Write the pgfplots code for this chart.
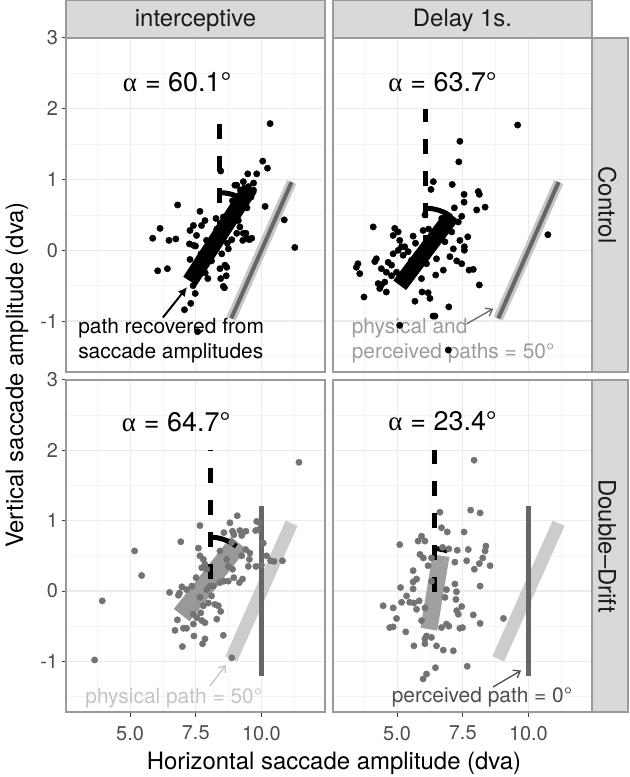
\documentclass[border=0pt]{standalone}
\usepackage{pgfplots}
\pgfplotsset{compat=1.18}
\usepackage{fontspec}
\setmainfont{TeX Gyre Heros}
\newfontfamily\greekfont{Liberation Serif}
\usetikzlibrary{arrows.meta}
\definecolor{gridmaj}{HTML}{EBEBEB}
\definecolor{gridmin}{HTML}{F4F4F4}
\definecolor{frame}{HTML}{9A9A9A}
\definecolor{stripfill}{HTML}{D9D9D9}
\definecolor{ticklab}{HTML}{4D4D4D}
\definecolor{ptgray}{HTML}{737373}
\definecolor{bargrayA}{HTML}{999999}
\definecolor{bargrayB}{HTML}{A0A0A0}
\definecolor{physlight}{HTML}{C6C6C6}
\definecolor{physlightB}{HTML}{CCCCCC}
\definecolor{darkline}{HTML}{666666}
\definecolor{annoA}{HTML}{9C9C9C}
\definecolor{annoB}{HTML}{C4C4C4}
\definecolor{annoC}{HTML}{4D4D4D}

\newcommand{\annofont}{\fontsize{21}{24}\selectfont}
\newcommand{\alphafont}{\fontsize{27}{30}\selectfont}

\pgfplotsset{
  panel/.style={
    scale only axis, width=259bp, anchor=south west,
    xmin=2.56, xmax=12.42, ymin=-1.72, ymax=3.0,
    axis line style={draw=frame, line width=1.1bp},
    xtick={5,7.5,10}, ytick={-1,0,1,2,3},
    minor xtick={3.75,6.25,8.75,11.25},
    minor ytick={-1.5,-0.5,0.5,1.5,2.5},
    grid=both,
    major grid style={draw=gridmaj, line width=1.1bp},
    minor grid style={draw=gridmin, line width=0.6bp},
    tick align=outside, major tick length=4.5bp, minor tick length=0pt,
    tick style={draw=black!75, line width=1bp},
    xtick pos=bottom, ytick pos=left,
    ticklabel style={font=\fontsize{20}{24}\selectfont, text=ticklab},
    xticklabel style={yshift=-6bp},
    xticklabels={5.0,7.5,10.0},
    yticklabels={-1,0,1,2,3},
  },
  toppanel/.style={height=334bp, xmajorticks=false},
  botpanel/.style={height=332bp},
  rightpanel/.style={ymajorticks=false},
  pts/.style={only marks, mark=*, mark size=3.2bp},
}

\begin{document}
\begin{tikzpicture}
\path[use as bounding box] (0,0) rectangle (630bp,777bp);

%% ---------------- Control / interceptive ----------------
\begin{axis}[panel, toppanel, at={(66bp,405bp)}]
\addplot[pts, black] coordinates {
(10.33,1.79) (10.05,1.26) (10.23,1.16) (9.82,1.08) (9.48,1.08) (9.70,0.95)
(9.06,0.92) (9.31,0.97) (8.99,0.92) (10.14,0.62) (10.87,0.43) (11.27,0.04)
(6.81,0.64) (7.66,0.55) (6.14,0.31) (5.86,0.17) (6.48,0.14) (6.74,0.16)
(6.05,-0.29) (6.42,-0.26) (7.28,0.28) (7.41,0.35) (7.72,0.35) (7.85,0.42)
(7.53,0.21) (7.26,0.09) (7.41,0.07) (7.91,0.14) (7.49,0.06) (7.28,-0.13)
(8.00,0.07) (8.27,0.45) (8.55,0.47) (9.12,0.42) (9.18,0.33) (9.06,0.47)
(8.68,0.33) (8.87,0.15) (9.06,0.24) (9.31,0.24) (9.41,0.24) (9.44,0.17)
(9.63,0.17) (9.29,0.14) (9.54,0.15) (8.74,0.02) (9.05,0.68) (8.49,-0.05)
(8.42,-0.26) (8.68,-0.24) (8.61,-0.21) (8.45,-0.40) (8.59,-0.53) (8.66,-0.36)
(7.96,-0.40) (7.86,-0.32) (8.55,-0.51) (7.48,-0.61) (7.31,-0.75) (7.07,-0.84)
(7.57,-1.15) (8.45,1.12)
(7.5,-0.3) (7.8,-0.15) (8.0,-0.05) (8.2,0.1) (8.4,0.2) (8.6,0.3) (8.8,0.45)
(9.0,0.55) (9.2,0.65) (9.4,0.78) (7.7,-0.05) (8.1,-0.15) (8.3,0.3) (8.7,0.1)
(8.9,0.7) (9.2,0.85) (9.5,0.9) (7.4,-0.5) (9.6,0.75) (9.7,0.85) (9.45,0.6)
};
\addplot[black, line width=16bp, line cap=butt] coordinates {(7.28,-0.436) (9.56,0.876)};
\addplot[black, line width=5bp, dash pattern=on 15bp off 17bp] coordinates {(8.42,0.22) (8.42,1.82)};
\addplot[black, line width=5bp, smooth] coordinates {(8.42,0.814) (8.648,0.808) (8.873,0.790) (9.089,0.760) (9.289,0.719)};
\addplot[physlight, line width=10bp, line cap=butt] coordinates {(8.851,-0.964) (11.149,0.964)};
\addplot[darkline, line width=4bp, line cap=butt] coordinates {(8.851,-0.964) (11.149,0.964)};
\addplot[black, line width=2bp, -{Latex[length=9bp,width=9bp]}] coordinates {(6.25,-0.95) (7.17,-0.52)};
\node[anchor=base west, inner sep=0, font=\alphafont] at (axis cs:4.72,2.24) {{\greekfont α}\hspace{8bp}= 60.1°};
\node[anchor=base west, inner sep=0, font=\annofont] at (axis cs:3.02,-1.175) {path recovered from};
\node[anchor=base west, inner sep=0, font=\annofont] at (axis cs:3.02,-1.53) {saccade amplitudes};
\end{axis}

%% ---------------- Control / Delay 1s. ----------------
\begin{axis}[panel, toppanel, rightpanel, at={(333bp,405bp)}]
\addplot[pts, black] coordinates {
(9.59,1.77) (7.39,1.54) (7.35,1.25) (6.38,0.97) (7.10,0.93) (6.29,0.86)
(7.55,0.79) (8.09,0.83) (8.13,0.79) (7.55,0.68) (7.18,0.60) (8.35,0.61)
(8.03,0.57) (7.46,0.48) (7.33,0.40) (6.06,0.50) (4.09,0.33) (4.91,0.31)
(5.04,0.26) (4.85,0.21) (5.99,0.28) (5.61,0.20) (7.08,0.26) (7.39,0.14)
(7.69,0.19) (6.82,0.12) (7.56,0.05) (7.14,0.02) (7.56,0.00) (7.01,-0.09)
(7.27,-0.15) (7.46,-0.19) (7.90,-0.27) (7.74,-0.28) (6.50,-0.12) (6.12,-0.19)
(6.76,-0.28) (6.47,-0.35) (5.93,-0.40) (8.13,-0.49) (5.95,-0.59) (6.18,-0.60)
(5.68,-0.72) (6.25,-0.68) (6.97,-0.80) (6.37,-0.93) (6.44,-0.93) (3.74,-0.66)
(3.51,-0.19) (3.45,-0.24) (3.58,-0.33) (4.21,-0.12) (4.15,-0.16) (4.40,-0.26)
(4.66,-0.17) (4.79,-0.21) (4.59,-0.31) (4.98,-0.31) (4.79,-0.36) (5.23,-0.07)
(5.17,0.05) (5.04,0.00) (4.85,-0.05) (4.28,-0.47) (4.40,-0.49) (4.53,-0.45)
(4.34,-0.54) (4.59,-0.59) (5.55,-0.14) (5.48,-0.26) (5.74,-0.07) (5.42,-0.02)
(5.29,0.05) (5.10,0.14) (6.38,0.17) (6.44,0.09) (5.10,-1.06) (6.95,-1.41)
(10.74,0.22)
(5.3,-0.4) (5.5,-0.3) (5.8,-0.15) (6.0,-0.05) (6.3,0.1) (6.6,0.25) (6.9,0.4)
(6.2,0.3) (5.7,0.1) (6.7,0.45)
};
\addplot[black, line width=16bp, line cap=butt] coordinates {(5.1,-0.494) (7.1,0.494)};
\addplot[black, line width=5bp, dash pattern=on 15bp off 17bp] coordinates {(6.1,0.0) (6.1,2.0)};
\addplot[black, line width=5bp, smooth] coordinates {(6.1,0.594) (6.356,0.586) (6.607,0.563) (6.845,0.526) (7.062,0.475)};
\addplot[physlight, line width=10bp, line cap=butt] coordinates {(8.851,-0.964) (11.149,0.964)};
\addplot[darkline, line width=4bp, line cap=butt] coordinates {(8.851,-0.964) (11.149,0.964)};
\addplot[darkline, line width=1.3bp, -{Straight Barb[length=6bp,width=9bp]}] coordinates {(7.65,-1.04) (8.66,-0.825)};
\node[anchor=base west, inner sep=0, font=\alphafont] at (axis cs:4.66,2.25) {{\greekfont α}\hspace{8bp}= 63.7°};
\node[anchor=base west, inner sep=0, font=\annofont, text=annoA] at (axis cs:3.27,-1.175) {physical and};
\node[anchor=base west, inner sep=0, font=\annofont, text=annoA] at (axis cs:3.27,-1.53) {perceived paths = 50°};
\end{axis}

%% ---------------- Double-Drift / interceptive ----------------
\begin{axis}[panel, botpanel, at={(66bp,65bp)}]
\addplot[pts, ptgray] coordinates {
(11.43,1.83) (3.65,-0.98) (3.94,-0.14) (5.17,0.57) (5.44,0.22) (6.93,0.70)
(7.66,0.93) (9.08,1.07) (8.80,0.97) (8.57,0.83) (8.90,0.85) (8.95,0.80)
(9.18,0.86) (9.41,0.85) (9.25,0.79) (9.82,0.99) (9.94,0.97) (9.88,0.87)
(9.78,0.86) (10.07,0.68) (10.20,0.50) (10.35,0.43) (10.80,0.43) (10.48,0.42)
(10.00,0.37) (9.79,0.35) (9.50,0.35) (9.54,0.45) (9.56,0.54) (9.40,0.59)
(9.25,0.50) (8.87,0.69) (8.42,0.57) (8.68,0.45) (8.74,0.35) (8.90,0.31)
(7.60,0.61) (7.66,0.50) (7.79,0.45) (7.85,0.38) (7.73,0.33) (7.92,0.31)
(7.51,0.19) (7.35,0.07) (6.97,0.06) (6.88,-0.03) (6.84,-0.06) (6.50,-0.02)
(7.15,0.02) (7.92,0.02) (8.04,0.07) (8.17,0.07) (8.42,0.12) (8.57,0.14)
(8.74,0.14) (8.95,0.19) (9.28,0.17) (9.16,0.12) (8.10,-0.07) (7.66,-0.09)
(7.79,-0.21) (7.98,-0.17) (8.23,-0.19) (8.36,-0.21) (8.45,-0.29) (7.41,-0.33)
(7.69,-0.31) (7.54,-0.38) (7.73,-0.42) (7.41,-0.47) (7.85,-0.45) (8.30,-0.40)
(6.80,-0.41) (6.71,-0.56) (7.03,-0.53) (7.15,-0.53) (7.43,-0.64) (7.85,-0.68)
(7.76,-0.75) (8.55,-0.63) (6.99,-0.79) (8.87,-0.95)
};
\addplot[bargrayA, line width=20bp, line cap=butt] coordinates {(6.965,-0.342) (9.135,0.682)};
\addplot[black, line width=5bp, dash pattern=on 15bp off 17bp] coordinates {(8.05,0.17) (8.05,2.0)};
\addplot[black, line width=5bp, smooth] coordinates {(8.05,0.765) (8.317,0.757) (8.575,0.732) (8.818,0.692) (9.042,0.637)};
\addplot[physlightB, line width=13bp, line cap=butt] coordinates {(8.851,-0.964) (11.149,0.964)};
\addplot[darkline, line width=5bp, line cap=butt] coordinates {(10,-1.21) (10,1.21)};
\addplot[annoB, line width=1.3bp, -{Straight Barb[length=6bp,width=9bp]}] coordinates {(8.04,-1.35) (8.65,-1.05)};
\node[anchor=base west, inner sep=0, font=\alphafont] at (axis cs:4.68,2.27) {{\greekfont α}\hspace{8bp}= 64.7°};
\node[anchor=base west, inner sep=0, font=\annofont, text=annoB] at (axis cs:3.29,-1.605) {physical path = 50°};
\end{axis}

%% ---------------- Double-Drift / Delay 1s. ----------------
\begin{axis}[panel, botpanel, rightpanel, at={(333bp,65bp)}]
\addplot[pts, ptgray] coordinates {
(7.93,1.86) (7.80,1.15) (8.16,1.11) (6.63,1.12) (6.69,0.90) (6.91,0.84)
(7.55,0.84) (5.93,0.78) (6.06,0.71) (5.80,0.71) (5.10,0.66) (5.87,0.52)
(6.00,0.47) (6.31,0.47) (6.73,0.62) (6.97,0.60) (7.29,0.58) (7.71,0.59)
(8.38,0.64) (8.35,0.57) (8.26,0.47) (8.13,0.39) (8.54,0.36) (7.65,0.43)
(7.20,0.41) (7.94,0.31) (6.18,0.36) (5.61,0.29) (5.74,0.17) (5.61,0.13)
(6.31,0.14) (5.13,0.05) (5.36,-0.07) (5.17,-0.16) (5.48,-0.16) (5.64,-0.17)
(5.84,-0.14) (5.61,0.03) (4.47,-0.21) (4.85,-0.24) (4.98,-0.39) (4.72,-0.52)
(4.85,-0.51) (5.33,-0.58) (5.74,-0.26) (6.06,-0.24) (5.93,-0.42) (7.20,0.10)
(7.26,-0.01) (6.88,0.02) (6.82,-0.09) (7.24,-0.12) (7.46,-0.22) (7.27,-0.28)
(7.33,-0.33) (8.16,0.07) (7.90,-0.34) (8.16,-0.46) (9.05,-0.39) (6.88,-0.47)
(6.97,-0.50) (6.69,-0.52) (7.39,-0.53) (7.49,-0.52) (6.31,-0.66) (6.06,-0.68)
(5.64,-0.78) (6.06,-0.75) (6.50,-0.78) (6.76,-0.84) (7.14,-0.85) (6.12,-0.64)
(6.46,-1.09) (6.12,-1.18) (5.99,-1.25) (7.67,-1.07)
};
\addplot[bargrayB, line width=17bp, line cap=butt] coordinates {(6.21,-0.543) (6.67,0.503)};
\addplot[black, line width=5bp, dash pattern=on 15bp off 17bp] coordinates {(6.44,-0.02) (6.44,2.0)};
\addplot[black, line width=5bp, smooth] coordinates {(6.44,0.60) (6.602,0.597) (6.762,0.586) (6.919,0.570)};
\addplot[physlightB, line width=13bp, line cap=butt] coordinates {(8.851,-0.964) (11.149,0.964)};
\addplot[darkline, line width=5bp, line cap=butt] coordinates {(10,-1.21) (10,1.21)};
\addplot[annoC, line width=1.3bp, -{Straight Barb[length=6bp,width=9bp]}] coordinates {(8.65,-1.365) (9.72,-1.13)};
\node[anchor=base west, inner sep=0, font=\alphafont] at (axis cs:4.66,2.28) {{\greekfont α}\hspace{8bp}= 23.4°};
\node[anchor=base west, inner sep=0, font=\annofont, text=annoC] at (axis cs:4.79,-1.58) {perceived path = 0°};
\end{axis}

%% ---------------- strips ----------------
\draw[fill=stripfill, draw=frame, line width=1.1bp] (66bp,739bp) rectangle (325bp,776.5bp);
\draw[fill=stripfill, draw=frame, line width=1.1bp] (333bp,739bp) rectangle (592bp,776.5bp);
\draw[fill=stripfill, draw=frame, line width=1.1bp] (592bp,405bp) rectangle (628bp,739bp);
\draw[fill=stripfill, draw=frame, line width=1.1bp] (592bp,65bp) rectangle (628bp,397bp);
\node[anchor=base, inner sep=0, font=\fontsize{24}{28}\selectfont, text=black!90] at (195.5bp,750.5bp) {interceptive};
\node[anchor=base, inner sep=0, font=\fontsize{24}{28}\selectfont, text=black!90] at (462.5bp,750.5bp) {Delay 1s.};
\node[anchor=base, inner sep=0, rotate=-90, font=\fontsize{24}{28}\selectfont, text=black!90] at (598.5bp,572bp) {Control};
\node[anchor=base, inner sep=0, rotate=-90, font=\fontsize{24}{28}\selectfont, text=black!90] at (598.5bp,231bp) {Double–Drift};

%% ---------------- axis titles ----------------
\node[anchor=base, inner sep=0, font=\fontsize{24}{28}\selectfont] at (334bp,8bp) {Horizontal saccade amplitude (dva)};
\node[anchor=base, inner sep=0, rotate=90, font=\fontsize{24}{28}\selectfont] at (23bp,402bp) {Vertical saccade amplitude (dva)};
\end{tikzpicture}
\end{document}
